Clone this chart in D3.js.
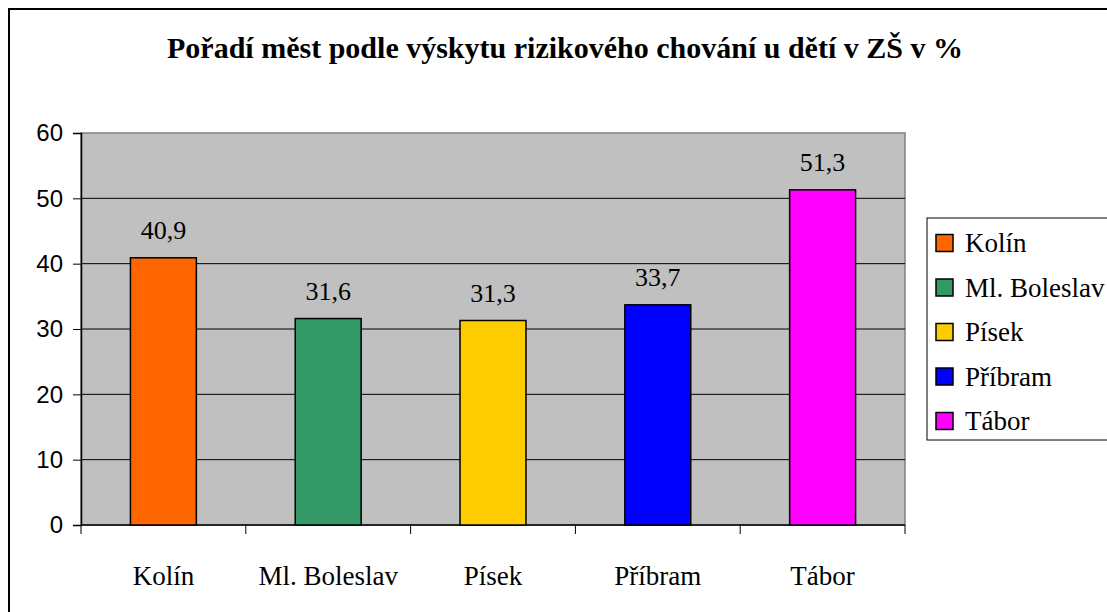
<!DOCTYPE html>
<html>
<head>
<meta charset="utf-8">
<script src="https://cdn.jsdelivr.net/npm/d3@7"></script>
<style>
  body { margin: 0; background: #fff; }
  svg { display: block; }
  .serif { font-family: "Liberation Serif", Tinos, "Times New Roman", Times, "DejaVu Serif", serif; }
  .sans { font-family: "Liberation Sans", Arimo, Arial, sans-serif; }
</style>
</head>
<body>
<svg width="1107" height="612"></svg>
<script>
var cities = ["Kolín", "Ml. Boleslav", "Písek", "Příbram", "Tábor"];
var values = [40.9, 31.6, 31.3, 33.7, 51.3];
var labels = ["40,9", "31,6", "31,3", "33,7", "51,3"];
var colors = ["#FF6600", "#339966", "#FFCC00", "#0000FF", "#FF00FF"];
var yTicks = [0, 10, 20, 30, 40, 50, 60];

var svg = d3.select("svg"),
    plotL = 81, plotR = 905, plotT = 133, plotB = 525;

// outer frame (runs off the picture on right and bottom)
svg.append("rect")
    .attr("x", 9).attr("y", 9)
    .attr("width", 1120).attr("height", 640)
    .attr("fill", "#fff")
    .attr("stroke", "#000").attr("stroke-width", 2);

svg.append("text")
    .attr("class", "serif")
    .attr("x", 565).attr("y", 58)
    .attr("text-anchor", "middle")
    .style("font-weight", "bold")
    .style("font-size", "30px")
    .text("Pořadí měst podle výskytu rizikového chování u dětí v ZŠ v %");

var x = d3.scaleBand().domain(cities).range([plotL, plotR]).padding(0);
var y = d3.scaleLinear().domain([0, 60]).range([plotB, plotT]);

// plot area
svg.append("rect")
    .attr("x", plotL).attr("y", plotT)
    .attr("width", plotR - plotL).attr("height", plotB - plotT)
    .attr("fill", "#C0C0C0")
    .attr("stroke", "#808080").attr("stroke-width", 1.5);

// gridlines
svg.append("g").selectAll("line")
  .data(yTicks.filter(function(d) { return d > 0 && d < 60; }))
  .enter().append("line")
    .attr("x1", plotL).attr("x2", plotR)
    .attr("y1", function(d) { return y(d); })
    .attr("y2", function(d) { return y(d); })
    .attr("stroke", "#000").attr("stroke-width", 1);

// y axis
var yAxis = svg.append("g")
    .attr("transform", "translate(" + plotL + ",0)")
    .call(d3.axisLeft(y).tickValues(yTicks).tickSize(8).tickPadding(10).tickFormat(d3.format("d")));
yAxis.attr("font-family", null);
yAxis.select(".domain").attr("stroke", "#000").attr("stroke-width", 1.5);
yAxis.selectAll("text")
    .attr("class", "sans")
    .style("font-size", "24px")
    .attr("fill", "#000");

// x axis: ticks between categories
var bounds = [plotL].concat(cities.map(function(c) { return x(c) + x.bandwidth(); }));
var xg = svg.append("g");
xg.append("line")
    .attr("x1", plotL).attr("x2", plotR)
    .attr("y1", plotB).attr("y2", plotB)
    .attr("stroke", "#000").attr("stroke-width", 1.5);
xg.selectAll(".tick").data(bounds).enter().append("line")
    .attr("x1", function(d) { return d; }).attr("x2", function(d) { return d; })
    .attr("y1", plotB).attr("y2", plotB + 9)
    .attr("stroke", "#000").attr("stroke-width", 1);
xg.selectAll("text").data(cities).enter().append("text")
    .attr("class", "serif")
    .attr("x", function(d) { return x(d) + x.bandwidth() / 2; })
    .attr("y", 585)
    .attr("text-anchor", "middle")
    .style("font-size", "27px")
    .text(function(d) { return d; });

// bars
var bw = x.bandwidth() * 0.4;
svg.append("g").selectAll("rect")
  .data(cities)
  .enter().append("rect")
    .attr("x", function(d) { return x(d) + (x.bandwidth() - bw) / 2; })
    .attr("y", function(d, i) { return y(values[i]); })
    .attr("width", bw)
    .attr("height", function(d, i) { return plotB - y(values[i]); })
    .attr("fill", function(d, i) { return colors[i]; })
    .attr("stroke", "#000").attr("stroke-width", 1.5);

svg.append("g").selectAll("text")
  .data(cities)
  .enter().append("text")
    .attr("class", "serif")
    .attr("x", function(d) { return x(d) + x.bandwidth() / 2; })
    .attr("y", function(d, i) { return y(values[i]) - 19; })
    .attr("text-anchor", "middle")
    .style("font-size", "26px")
    .text(function(d, i) { return labels[i]; });

// legend
var legend = svg.append("g");
legend.append("rect")
    .attr("x", 927).attr("y", 218)
    .attr("width", 200).attr("height", 222)
    .attr("fill", "#fff")
    .attr("stroke", "#000").attr("stroke-width", 1);
var item = legend.selectAll(".item")
  .data(cities)
  .enter().append("g")
    .attr("transform", function(d, i) { return "translate(936," + (243 + i * 44.5) + ")"; });
item.append("rect")
    .attr("x", 0).attr("y", -8.5)
    .attr("width", 17).attr("height", 17)
    .attr("fill", function(d, i) { return colors[i]; })
    .attr("stroke", "#000").attr("stroke-width", 1.5);
item.append("text")
    .attr("class", "serif")
    .attr("x", 29).attr("y", 9)
    .style("font-size", "27px")
    .text(function(d) { return d; });
</script>
</body>
</html>
